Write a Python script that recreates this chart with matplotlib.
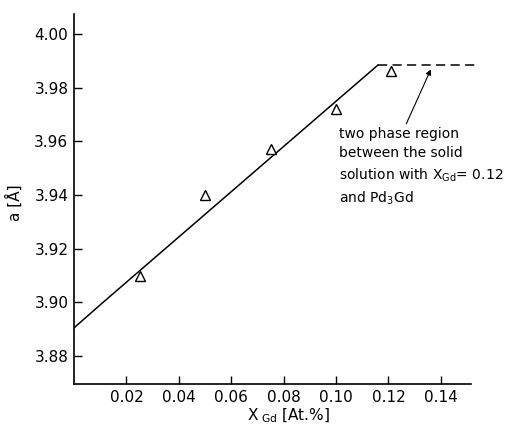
import matplotlib
matplotlib.use("Agg")
import matplotlib.pyplot as plt

# measured points (triangles)
x_gd = [0.025, 0.050, 0.075, 0.100, 0.121]
a_meas = [3.910, 3.940, 3.957, 3.972, 3.986]

# fitted solid solution line and two phase region
x_fit = [0.0, 0.0105, 0.116]
a_fit = [3.8905, 3.8995, 3.9884]
x_two = [0.116, 0.154]
a_two = [3.9884, 3.9884]

xticks = [0.02, 0.04, 0.06, 0.08, 0.10, 0.12, 0.14]
xtick_labels = ["0.02", "0.04", "0.06", "0.08", "0.10", "0.12", "0.14"]
yticks = [3.88, 3.90, 3.92, 3.94, 3.96, 3.98, 4.00]

plt.rcParams['font.family'] = ['DejaVu Sans']

fig = plt.figure(figsize=(5.11, 4.26), dpi=100)
ax = fig.add_axes([0.1448, 0.0986, 0.7769, 0.8685])

ax.plot(x_fit, a_fit, color='black', linewidth=1.1)
ax.plot(x_two, a_two, color='black', linewidth=1.1, linestyle=(0, (6, 3.5)), clip_on=False)
ax.plot(x_gd, a_meas, linestyle='none', marker='^', markersize=7,
        markerfacecolor='white', markeredgecolor='black', markeredgewidth=1.0)

ax.set_xlim(0, 0.1515)
ax.set_ylim(3.8696, 4.0074)
ax.set_xticks(xticks)
ax.set_xticklabels(xtick_labels)
ax.set_yticks(yticks)
ax.set_yticklabels(["%.2f" % v for v in yticks])
ax.tick_params(direction='in', length=6, width=1, labelsize=11, pad=4)

ax.spines['top'].set_visible(False)
ax.spines['right'].set_visible(False)
ax.spines['left'].set_linewidth(1.2)
ax.spines['bottom'].set_linewidth(1.2)

ax.set_xlabel(r'X$_{\ \mathregular{Gd}}$ [At.%]', fontsize=11)
ax.xaxis.set_label_coords(0.54, -0.062)
ax.set_ylabel(r'a [Å]', fontsize=11)
ax.yaxis.set_label_coords(-0.128, 0.49)

ax.annotate('', xy=(0.1362, 3.9868), xytext=(0.1268, 3.9665),
            arrowprops=dict(arrowstyle='-|>', color='black', linewidth=0.8,
                            mutation_scale=8, shrinkA=0, shrinkB=0))

ax.text(0.1013, 3.9652,
        "two phase region\nbetween the solid\n"
        r"solution with X$_{\mathregular{Gd}}$= 0.12" "\nand Pd$_{\\mathregular{3}}$Gd",
        fontsize=10, va='top', ha='left', linespacing=1.45)

fig.savefig("out.png", dpi=100)
